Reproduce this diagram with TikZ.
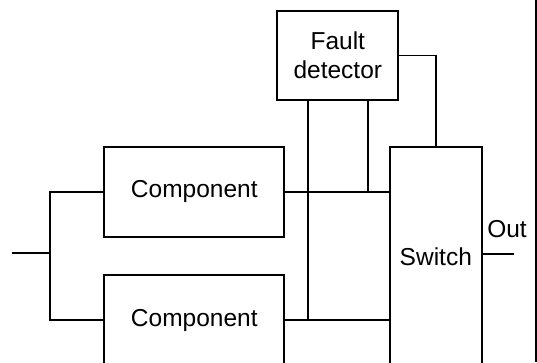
\documentclass[tikz,border=0pt]{standalone}
\usepackage{fontspec}
\setmainfont{Liberation Sans}
\usetikzlibrary{calc}
\begin{document}
\begin{tikzpicture}[x=1pt,y=-1pt,
  line width=1.8pt,
  every node/.style={font=\fontsize{24.5}{29}\selectfont},
  block/.style={draw, line width=1.8pt, inner sep=0pt, align=center},
  wire/.style={draw, line width=1.8pt}]
\useasboundingbox (0,0) rectangle (537,362);
\begin{scope}
\clip (0,0) rectangle (537,362);

% blocks
\node[block, minimum width=180pt, minimum height=90pt] (c1) at (194.3,191.7) {Component};
\node[block, minimum width=180pt, minimum height=90pt] (c2) at (194.3,320) {Component};
\node[block, minimum width=121pt, minimum height=89pt] (fd) at (337.8,55.5) {Fault\\detector};
\node[block, minimum width=91.7pt, minimum height=220pt] (sw) at (435.8,256.7) {Switch};

% input fan-out
\coordinate (in) at (11.7,252.7);
\coordinate (split) at (50,252.7);
\draw[wire] (in) -- (split);
\draw[wire] (c1.west) -| (split) |- (c2.west);

% component outputs to the switch
\draw[wire] (c1.east) -- (sw.west |- c1.east);
\draw[wire] (c2.east) -- (sw.west |- c2.east);

% fault detector taps
\coordinate (t1) at ($(fd.south west)!0.256!(fd.south east)$);
\coordinate (t2) at ($(fd.south west)!0.747!(fd.south east)$);
\draw[wire] (t1) -- (t1 |- c2.east);
\draw[wire] (t2) -- (t2 |- c1.east);

% control line to the switch
\draw[wire] (fd.east) -| (sw.north);

% output
\coordinate (out) at ($(sw.east)+(31,-2.7)$);
\draw[wire] (sw.east |- out) -- (out);
\node at (507,229) {Out};

% frame edge on the right
\draw[line width=1.8pt] (536,0) -- (536,362);
\end{scope}
\end{tikzpicture}
\end{document}
